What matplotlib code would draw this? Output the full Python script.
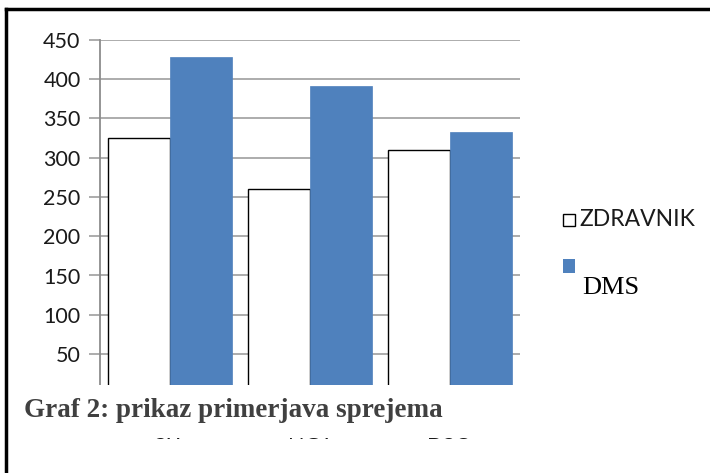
import matplotlib
matplotlib.use("Agg")
import matplotlib.pyplot as plt
import numpy as np
from matplotlib.patches import Rectangle
from matplotlib.lines import Line2D

categories = ["SIT", "NGT", "DSO"]
zdravnik = [325, 260, 310]
sestra = [428, 391, 332]
yticks = [0, 50, 100, 150, 200, 250, 300, 350, 400, 450]
caption = "Graf 2: prikaz primerjava sprejema"

W, H = 710, 473
fig = plt.figure(figsize=(W / 100, H / 100), dpi=100)

def fx(px):
    return px / W

def fy(py):
    return 1 - py / H

ax = fig.add_axes([fx(100), fy(393.4), fx(520) - fx(100), fy(39.7) - fy(393.4)])
x = np.arange(len(categories))
bw = 0.44
ax.bar(x - bw / 2, zdravnik, bw, color="white", edgecolor="black", linewidth=1.0, zorder=3)
ax.bar(x + bw / 2, sestra, bw, color="#4f81bd", edgecolor="#4f81bd", linewidth=0.5, zorder=3)
ax.set_xlim(-0.5, len(categories) - 0.5)
ax.set_ylim(0, 450)
ax.set_yticks(yticks)
ax.set_yticklabels([str(v) for v in yticks], fontfamily="Lato", fontsize=15.5, color="#1a1a1a")
ax.yaxis.grid(True, color="#a6a6a6", linewidth=1.3, zorder=0)
ax.tick_params(axis="y", length=8, width=1.3, color="#a6a6a6", pad=6)
ax.set_xticks([])
for s in ["top", "right", "bottom"]:
    ax.spines[s].set_visible(False)
ax.spines["left"].set_color("#8c8c8c")
ax.spines["left"].set_linewidth(1.3)
ax.spines["left"].set_zorder(4)

# category labels (mostly hidden by the caption box)
for i, c in enumerate(categories):
    xd = ax.transData.transform((i, 0))[0]
    fig.text(xd / W, fy(443), c, ha="center", va="bottom", fontfamily="Lato", fontsize=15.5, color="#1a1a1a")

# legend
fig.patches.append(Rectangle((fx(563), fy(226)), fx(12), fy(214) - fy(226), transform=fig.transFigure,
                             facecolor="white", edgecolor="black", linewidth=1.0))
fig.text(fx(579), fy(220), "ZDRAVNIK", ha="left", va="center", fontfamily="Lato", fontsize=16.5, color="#1a1a1a")
fig.patches.append(Rectangle((fx(563), fy(273)), fx(12), fy(259) - fy(273), transform=fig.transFigure,
                             facecolor="#4f81bd", edgecolor="none"))
fig.text(fx(584), fy(262), "SESTRA", ha="left", va="bottom", fontfamily="Lato", fontsize=16.5, color="#1a1a1a")
fig.patches.append(Rectangle((fx(580), fy(259)), fx(100), fy(235) - fy(259), transform=fig.transFigure,
                             facecolor="white", edgecolor="none", zorder=10))
fig.text(fx(582), fy(288), "DMS", ha="left", va="center", fontfamily="Liberation Serif", fontsize=19, color="black", zorder=11)

# caption box covering the lower part of the chart
fig.patches.append(Rectangle((fx(8), fy(438)), fx(700), fy(385) - fy(438), transform=fig.transFigure,
                             facecolor="white", edgecolor="none", zorder=10))
fig.text(fx(24), fy(410), caption, ha="left", va="center", fontfamily="Liberation Serif", fontweight="bold",
         fontsize=19.5, color="#404040", zorder=11)

# frame
fig.add_artist(Line2D([fx(6), fx(6)], [fy(9), 0], transform=fig.transFigure, color="black", linewidth=2.5, zorder=12))
fig.add_artist(Line2D([fx(6), 1], [fy(9), fy(9)], transform=fig.transFigure, color="black", linewidth=2.5, zorder=12))

fig.savefig("out.png", dpi=100)
